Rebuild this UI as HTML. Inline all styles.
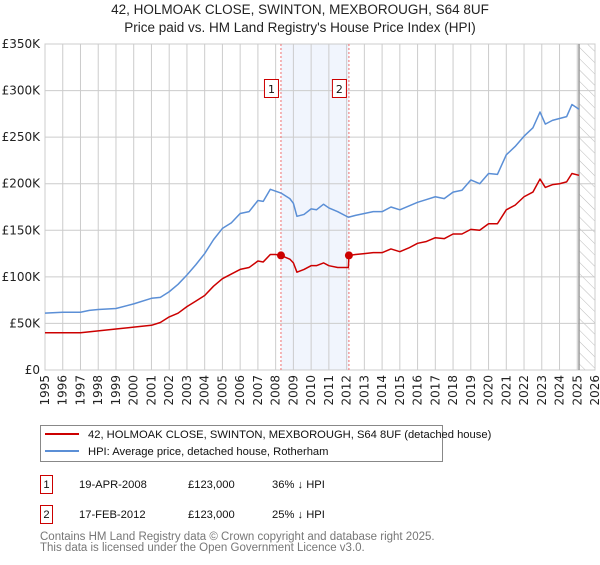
<!DOCTYPE html>
<html><head><meta charset="utf-8"><style>
body{margin:0;background:#fff;font-family:"Liberation Sans",sans-serif;}
svg text{font-family:"DejaVu Sans","Liberation Sans",sans-serif;}
svg text.n{font-family:"Liberation Sans",sans-serif;}
</style></head><body>
<svg id="c" width="600" height="560" xmlns="http://www.w3.org/2000/svg">
<defs><pattern id="hatch" width="8" height="8" patternUnits="userSpaceOnUse" patternTransform="rotate(-45)"><line x1="0" y1="0" x2="0" y2="8" stroke="#bbb" stroke-width="1"/></pattern></defs>
<text class="n" x="300" y="14" text-anchor="middle" font-size="13.5" fill="#222">42, HOLMOAK CLOSE, SWINTON, MEXBOROUGH, S64 8UF</text>
<text class="n" x="300" y="32" text-anchor="middle" font-size="13.5" fill="#222">Price paid vs. HM Land Registry's House Price Index (HPI)</text>
<g id="plot"></g>
<g>
<rect x="40.5" y="425.5" width="402" height="36" fill="#fff" stroke="#888"/>
<line x1="45" y1="434" x2="79" y2="434" stroke="#cc0000" stroke-width="2"/>
<text class="n" x="88" y="438" font-size="11.2" fill="#111">42, HOLMOAK CLOSE, SWINTON, MEXBOROUGH, S64 8UF (detached house)</text>
<line x1="45" y1="451" x2="79" y2="451" stroke="#5b8fd6" stroke-width="2"/>
<text class="n" x="88" y="455" font-size="11.2" fill="#111">HPI: Average price, detached house, Rotherham</text>
</g>
<g font-size="11.2" fill="#111">
<rect x="40.5" y="475.5" width="12" height="18" fill="#fff" stroke="#cc0000"/><text class="n" x="46.5" y="488" text-anchor="middle">1</text>
<text class="n" x="79" y="488">19-APR-2008</text><text class="n" x="188" y="488">£123,000</text><text class="n" x="272" y="488">36% ↓ HPI</text>
<rect x="40.5" y="505.5" width="12" height="18" fill="#fff" stroke="#cc0000"/><text class="n" x="46.5" y="518" text-anchor="middle">2</text>
<text class="n" x="79" y="518">17-FEB-2012</text><text class="n" x="188" y="518">£123,000</text><text class="n" x="272" y="518">25% ↓ HPI</text>
</g>
<text class="n" x="40" y="540" font-size="11.5" fill="#777">Contains HM Land Registry data © Crown copyright and database right 2025.</text>
<text class="n" x="40" y="551" font-size="11.5" fill="#777">This data is licensed under the Open Government Licence v3.0.</text>
</svg>
<script>
const hpiYears=[1995,1996,1997,1997.5,1998,1999,2000,2001,2001.5,2002,2002.5,2003,2003.5,2004,2004.5,2005,2005.5,2006,2006.5,2007,2007.3,2007.7,2008,2008.3,2008.8,2009,2009.2,2009.6,2010,2010.3,2010.7,2011,2011.5,2012.1,2012.5,2013,2013.5,2014,2014.5,2015,2015.5,2016,2016.5,2017,2017.5,2018,2018.5,2019,2019.5,2020,2020.5,2021,2021.5,2022,2022.5,2022.9,2023.2,2023.6,2024,2024.4,2024.7,2025.1];
const hpiValues=[61,62,62,64,65,66,71,77,78,84,92,102,113,125,140,152,158,168,170,182,181,194,192,190,184,179,165,167,173,172,178,174,170,164,166,168,170,170,175,172,176,180,183,186,184,191,193,204,200,211,210,231,240,251,260,277,264,268,270,272,285,280];
const ppYears=[1995,1996,1997,1998,1999,2000,2001,2001.5,2002,2002.5,2003,2003.5,2004,2004.5,2005,2005.5,2006,2006.5,2007,2007.3,2007.7,2008,2008.3,2008.8,2009,2009.2,2009.6,2010,2010.3,2010.7,2011,2011.5,2012.1,2012.13,2012.5,2013,2013.5,2014,2014.5,2015,2015.5,2016,2016.5,2017,2017.5,2018,2018.5,2019,2019.5,2020,2020.5,2021,2021.5,2022,2022.5,2022.9,2023.2,2023.6,2024,2024.4,2024.7,2025.1];
const ppValues=[40,40,40,42,44,46,48,51,57,61,68,74,80,90,98,103,108,110,117,116,124,124,123,119,115,105,108,112,112,115,112,110,110,123,124,125,126,126,130,127,131,136,138,142,141,146,146,151,150,157,157,172,177,186,191,205,196,199,200,202,211,209];
const sales=[{n:"1",year:2008.3,value:123},{n:"2",year:2012.13,value:123}];
const yTicks=[0,50,100,150,200,250,300,350];
const yTickLabels=["£0","£50K","£100K","£150K","£200K","£250K","£300K","£350K"];
const xTicks=[1995,1996,1997,1998,1999,2000,2001,2002,2003,2004,2005,2006,2007,2008,2009,2010,2011,2012,2013,2014,2015,2016,2017,2018,2019,2020,2021,2022,2023,2024,2025,2026];
const X0=45,X1=595,Y0=370,Y1=44,xmin=1995,xmax=2026,ymax=350,dataEnd=2025.1;
const sx=y=>X0+(y-xmin)/(xmax-xmin)*(X1-X0);
const sy=v=>Y0-v/ymax*(Y0-Y1);
const NS="http://www.w3.org/2000/svg";
const g=document.getElementById('plot');
function mk(t,a,p){const e=document.createElementNS(NS,t);for(const k in a)e.setAttribute(k,a[k]);(p||g).appendChild(e);return e;}
let sh=mk('rect',{x:sx(sales[0].year),y:Y1,width:sx(sales[1].year)-sx(sales[0].year),height:Y0-Y1,fill:'#eef3fc',opacity:0.8});


let ht=mk('rect',{x:sx(dataEnd),y:Y1,width:X1-sx(dataEnd),height:Y0-Y1,fill:'url(#hatch)'});


yTicks.forEach((t,i)=>{
 const l=mk('line',{x1:X0,x2:X1,y1:sy(t),y2:sy(t),stroke:'#ccc','stroke-width':1});
 
 
 const tx=mk('text',{x:X0-5,y:sy(t)+4,'text-anchor':'end','font-size':12,fill:'#222'});
 tx.textContent=yTickLabels[i];
 
 
});
xTicks.forEach(t=>{
 const l=mk('line',{x1:sx(t),x2:sx(t),y1:Y1,y2:Y0,stroke:'#ccc','stroke-width':1});
 
 
 const tx=mk('text',{x:0,y:0,'text-anchor':'end','font-size':12,fill:'#222',transform:`translate(${sx(t)+4},375) rotate(-90)`});
 tx.textContent=String(t);
 
 
});
const fr=mk('rect',{x:X0,y:Y1,width:X1-X0,height:Y0-Y1,fill:'none',stroke:'#ccc'});


const de=mk('line',{x1:sx(dataEnd),x2:sx(dataEnd),y1:Y1,y2:Y0,stroke:'#999','stroke-width':1.5});


sales.forEach(s=>{
 const l=mk('line',{x1:sx(s.year),x2:sx(s.year),y1:Y1,y2:Y0,stroke:'#f07070','stroke-width':1,'stroke-dasharray':'2,2'});
 
 
});
function line(xs,vs,c,name){
 const p=mk('polyline',{points:xs.map((x,i)=>sx(x)+','+sy(vs[i])).join(' '),fill:'none',stroke:c,'stroke-width':1.5,'stroke-linejoin':'round'});
 
 
}
line(hpiYears,hpiValues,'#5b8fd6','hpi-line');
line(ppYears,ppValues,'#cc0000','price-paid-line');
sales.forEach(s=>{
 const c=mk('circle',{cx:sx(s.year),cy:sy(s.value),r:4,fill:'#cc0000'});
 
 
 const r=mk('rect',{x:sx(s.year)-16.5,y:79.5,width:14,height:18,fill:'#fff',stroke:'#cc0000'});
 
 
 const t=mk('text',{x:sx(s.year)-9.5,y:93,'text-anchor':'middle','font-size':11,fill:'#111'});
 t.textContent=s.n;
 
 
});
</script>
</body></html>
